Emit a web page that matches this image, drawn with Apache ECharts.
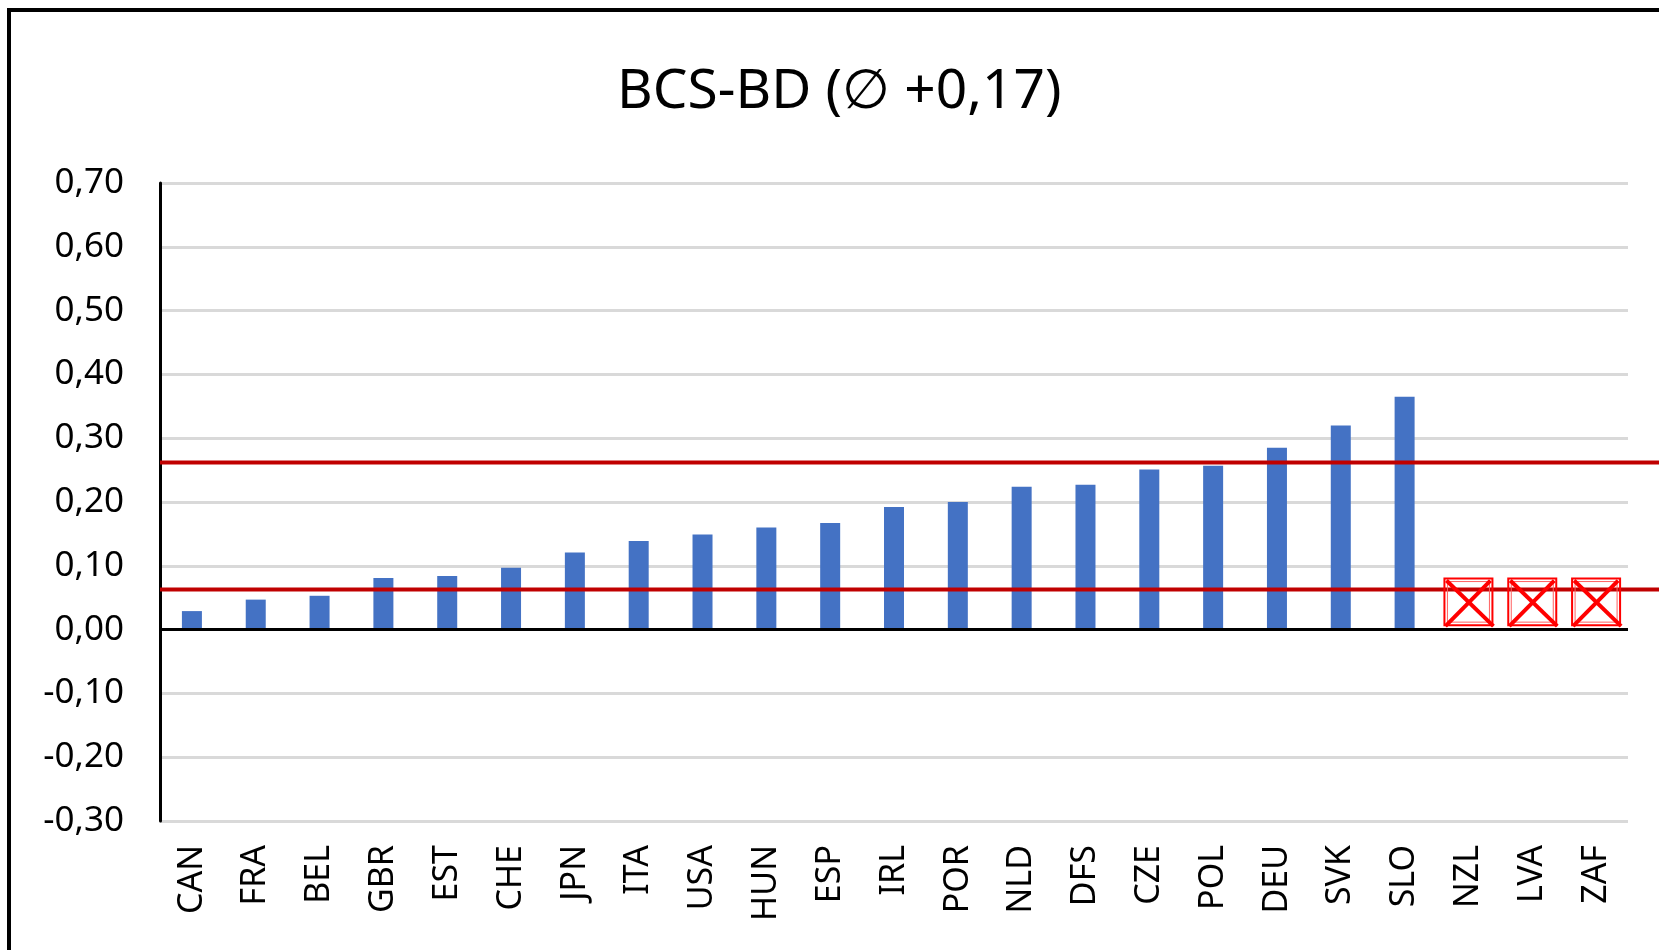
<!DOCTYPE html>
<html>
<head>
<meta charset="utf-8">
<script src="https://cdn.jsdelivr.net/npm/echarts@6/dist/echarts.min.js"></script>
<style>
	html, body { margin: 0; padding: 0; background: #fff; }
	#chart { width: 1659px; height: 950px; }
</style>
</head>
<body>
<div id="chart"></div>
<script>
// 国家代码
var categories = ['CAN', 'FRA', 'BEL', 'GBR', 'EST', 'CHE', 'JPN', 'ITA', 'USA', 'HUN', 'ESP', 'IRL',
	'POR', 'NLD', 'DFS', 'CZE', 'POL', 'DEU', 'SVK', 'SLO', 'NZL', 'LVA', 'ZAF'];
// BCS-BD 数值, 最后三个没有数据
var values = [0.029, 0.047, 0.053, 0.081, 0.084, 0.097, 0.121, 0.139, 0.149, 0.160, 0.167, 0.192,
	0.200, 0.224, 0.227, 0.251, 0.257, 0.285, 0.320, 0.365, null, null, null];
// 两条红色参考线
var bandLines = [0.262, 0.063];
// 缺失数据的占位框 (下沿, 上沿)
var missing = ['NZL', 'LVA', 'ZAF'];
var missingRange = [0.007, 0.080];
// y 轴刻度
var yMin = -0.3, yMax = 0.7, yStep = 0.1;

var FONT = '"Noto Sans", "DejaVu Sans", sans-serif';
var chart = echarts.init(document.getElementById('chart'));

function fmt(v) {
	return (Math.round(v * 100) / 100).toFixed(2).replace('.', ',');
}

var option = {
	backgroundColor: '#fff',
	animation: false,
	title: {
		text: 'BCS-BD (\u2205 +0,17)',
		left: 612,
		top: 60,
		textStyle: { fontFamily: FONT, fontSize: 55, fontWeight: 'normal', color: '#000' }
	},
	graphic: [{
		type: 'rect',
		shape: { x: 9, y: 10, width: 1700, height: 1000 },
		style: { fill: 'none', stroke: '#000', lineWidth: 4 },
		silent: true
	}],
	grid: { left: 160, right: 31, top: 183, bottom: 129 },
	xAxis: {
		type: 'category',
		data: categories,
		axisLine: { show: false },
		axisTick: { show: false },
		axisLabel: {
			rotate: 90,
			margin: 24,
			interval: 0,
			color: '#000',
			fontFamily: FONT,
			fontSize: 34
		}
	},
	yAxis: {
		type: 'value',
		min: yMin,
		max: yMax,
		interval: yStep,
		axisLine: { show: true, lineStyle: { color: '#000', width: 3 } },
		axisTick: { show: false },
		splitLine: { lineStyle: { color: '#d9d9d9', width: 3 } },
		axisLabel: {
			margin: 36,
			color: '#000',
			fontFamily: FONT,
			fontSize: 35,
			formatter: fmt
		}
	},
	series: [
		{
			type: 'bar',
			data: values,
			barWidth: 20,
			itemStyle: { color: '#4472C4' },
			markLine: {
				silent: true,
				symbol: 'none',
				label: { show: false },
				lineStyle: { color: '#000', width: 3, type: 'solid' },
				data: [{ yAxis: 0 }],
				z: 3
			},
			z: 2
		},
		{
			type: 'custom',
			z: 4,
			silent: true,
			data: bandLines.map(function (v) { return [0, v]; }),
			renderItem: function (params, api) {
				var y = api.coord([0, api.value(1)])[1];
				return {
					type: 'line',
					shape: { x1: params.coordSys.x, y1: y, x2: api.getWidth(), y2: y },
					style: { stroke: '#C00000', lineWidth: 4 }
				};
			}
		},
		{
			type: 'custom',
			z: 5,
			silent: true,
			data: missing.map(function (c) { return [c, missingRange[0], missingRange[1]]; }),
			renderItem: function (params, api) {
				var lo = api.coord([api.value(0), api.value(1)]);
				var hi = api.coord([api.value(0), api.value(2)]);
				var w = 48;
				var x = lo[0] - w / 2, y = hi[1], h = lo[1] - hi[1];
				return {
					type: 'group',
					children: [
						{ type: 'rect', shape: { x: x, y: y, width: w, height: h }, style: { fill: 'none', stroke: '#ff0000', lineWidth: 2 } },
						{ type: 'rect', shape: { x: x + 3, y: y + 3, width: w - 6, height: h - 6 }, style: { fill: 'none', stroke: '#ff6060', lineWidth: 1 } },
						{ type: 'line', shape: { x1: x + 2, y1: y + 2, x2: x + w + 1, y2: y + h + 1 }, style: { stroke: '#ff0000', lineWidth: 4 } },
						{ type: 'line', shape: { x1: x + w - 2, y1: y + 2, x2: x + 1, y2: y + h + 1 }, style: { stroke: '#ff0000', lineWidth: 4 } }
					]
				};
			}
		}
	]
};

chart.setOption(option);
</script>
</body>
</html>
